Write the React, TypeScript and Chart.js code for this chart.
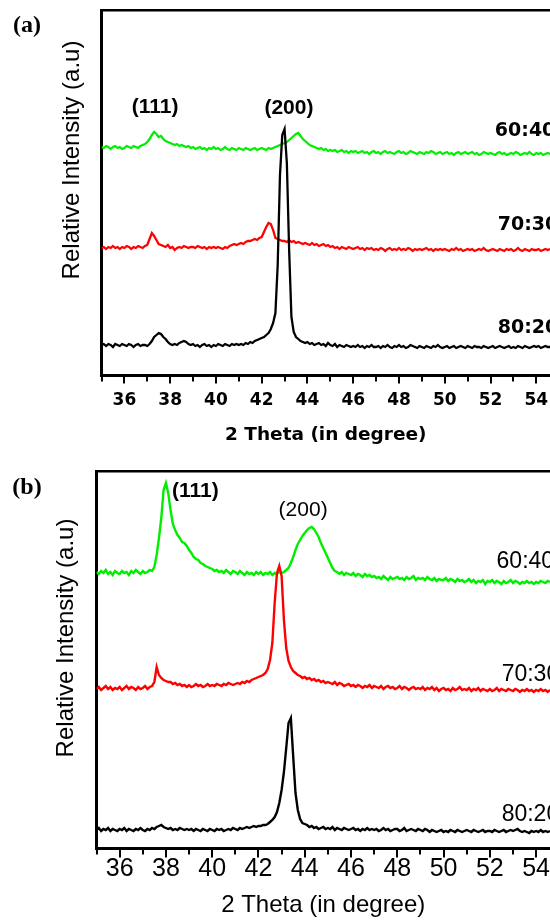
import React, { useEffect, useRef } from 'react';
import { Chart, registerables } from 'chart.js';
Chart.register(...registerables);

// ---------- data ----------
const angles = [
  35.0,35.1,35.2,35.3,35.4,35.5,35.6,35.7,35.8,35.9,
  36.0,36.1,36.2,36.3,36.4,36.5,36.6,36.7,36.8,36.9,
  37.0,37.1,37.2,37.3,37.4,37.5,37.6,37.7,37.8,37.9,
  38.0,38.1,38.2,38.3,38.4,38.5,38.6,38.7,38.8,38.9,
  39.0,39.1,39.2,39.3,39.4,39.5,39.6,39.7,39.8,39.9,
  40.0,40.1,40.2,40.3,40.4,40.5,40.6,40.7,40.8,40.9,
  41.0,41.1,41.2,41.3,41.4,41.5,41.6,41.7,41.8,41.9,
  42.0,42.1,42.2,42.3,42.4,42.5,42.6,42.7,42.8,42.9,
  43.0,43.1,43.2,43.3,43.4,43.5,43.6,43.7,43.8,43.9,
  44.0,44.1,44.2,44.3,44.4,44.5,44.6,44.7,44.8,44.9,
  45.0,45.1,45.2,45.3,45.4,45.5,45.6,45.7,45.8,45.9,
  46.0,46.1,46.2,46.3,46.4,46.5,46.6,46.7,46.8,46.9,
  47.0,47.1,47.2,47.3,47.4,47.5,47.6,47.7,47.8,47.9,
  48.0,48.1,48.2,48.3,48.4,48.5,48.6,48.7,48.8,48.9,
  49.0,49.1,49.2,49.3,49.4,49.5,49.6,49.7,49.8,49.9,
  50.0,50.1,50.2,50.3,50.4,50.5,50.6,50.7,50.8,50.9,
  51.0,51.1,51.2,51.3,51.4,51.5,51.6,51.7,51.8,51.9,
  52.0,52.1,52.2,52.3,52.4,52.5,52.6,52.7,52.8,52.9,
  53.0,53.1,53.2,53.3,53.4,53.5,53.6,53.7,53.8,53.9,
  54.0,54.1,54.2,54.3,54.4,54.5,54.6,
];

// panel (a)
const a60 = [
  228,227,229,228,226,228,229,227,228,226,
  227,229,228,227,229,228,227,229,230,231,
  233,236,240,243,241,238,239,236,234,233,
  232,231,230,231,229,230,229,228,229,227,
  228,226,227,228,226,227,225,227,226,228,
  226,227,225,226,228,226,225,227,226,225,
  227,226,225,227,226,225,226,227,225,226,
  227,226,225,227,226,227,228,229,230,231,
  232,233,235,237,239,241,242,239,236,234,
  232,230,229,228,227,226,227,225,226,224,
  225,224,225,223,224,225,223,224,222,224,
  223,224,222,223,224,222,223,221,223,224,
  222,223,221,223,224,222,223,222,221,223,
  224,222,223,221,222,224,223,222,221,223,
  222,221,223,222,224,223,221,222,223,221,
  222,223,221,222,220,222,223,221,222,223,
  221,222,223,221,222,220,221,223,222,221,
  222,221,220,222,223,221,222,220,221,222,
  221,223,222,220,221,222,221,223,221,220,
  222,221,222,220,221,222,221,
];
const a70 = [
  127,128,126,128,127,129,127,128,126,128,
  127,129,128,126,128,127,129,128,127,129,
  130,136,142,139,135,131,130,129,128,130,
  127,128,125,127,128,127,129,128,127,128,
  128,127,129,128,127,128,126,128,127,128,
  127,128,127,126,128,127,129,130,131,130,
  131,132,131,133,134,134,135,136,135,137,
  138,143,148,152,151,145,137,136,135,134,
  134,133,135,133,134,132,133,132,131,132,
  131,130,132,130,131,129,130,131,129,130,
  128,129,127,128,126,128,127,126,128,127,
  126,127,128,126,127,125,127,126,127,125,
  126,125,127,126,124,126,127,125,126,125,
  127,125,126,125,127,126,124,126,125,126,
  125,126,127,125,126,124,126,125,126,125,
  126,125,124,126,125,127,125,126,124,125,
  126,125,126,124,125,126,125,127,125,124,
  125,126,125,124,126,125,124,126,125,126,
  124,125,127,125,124,126,125,124,126,125,
  125,126,124,125,126,125,126,
];
const a80 = [
  30,31,29,31,30,28,31,30,29,31,
  30,29,31,30,28,30,31,29,30,30,
  29,31,34,38,40,42,41,38,36,33,
  31,30,31,30,32,33,34,33,31,30,
  31,29,30,28,30,31,29,30,28,30,
  29,31,30,29,31,30,29,31,30,31,
  30,31,30,32,31,33,32,34,35,36,
  37,38,40,42,46,52,62,110,200,240,
  246,212,125,58,43,38,36,34,33,32,
  33,31,32,30,31,32,30,31,29,32,
  30,29,31,28,30,29,28,30,29,28,
  29,28,30,28,29,27,29,28,30,28,
  28,29,27,29,28,30,28,27,29,28,
  30,28,29,27,28,30,29,28,27,29,
  28,27,29,28,27,29,28,30,28,27,
  28,29,27,28,29,27,28,29,28,27,
  29,28,27,29,28,28,27,29,28,27,
  28,29,27,28,29,28,27,28,29,27,
  28,27,29,28,27,29,28,27,28,29,
  28,29,27,28,29,28,28,
];

// panel (b)
const b60 = [
  276,274,277,275,278,274,276,273,277,275,
  274,277,275,276,273,277,275,278,276,274,
  277,275,276,278,277,281,293,310,330,358,
  365,355,338,324,318,313,310,306,305,302,
  298,295,291,289,288,285,284,282,281,280,
  279,277,278,276,277,275,278,276,274,277,
  276,274,277,275,273,276,274,275,273,276,
  274,276,273,275,274,276,273,275,274,276,
  275,276,278,280,285,291,298,304,308,312,
  315,318,320,321,319,315,311,305,300,295,
  290,285,280,277,276,274,276,273,275,274,
  273,275,272,274,273,271,274,272,273,271,
  272,270,271,269,272,270,268,271,269,270,
  271,269,270,268,271,269,270,272,268,270,
  269,270,268,271,269,268,270,267,269,268,
  268,270,267,269,268,266,269,267,268,266,
  267,269,266,268,265,267,266,268,264,267,
  266,268,265,267,266,264,267,265,266,268,
  265,267,266,264,266,265,267,265,266,264,
  266,265,267,266,265,267,266,
];
const b70 = [
  159,161,158,160,162,159,161,158,160,159,
  161,158,160,162,159,161,160,158,161,159,
  160,162,159,161,162,166,181,173,170,168,
  167,166,166,164,165,163,164,162,163,161,
  163,161,162,164,162,163,161,162,164,162,
  163,162,164,163,162,164,163,165,164,163,
  164,165,164,166,165,167,166,168,169,170,
  171,172,173,175,179,188,205,245,275,282,
  272,228,200,187,181,177,175,173,172,170,
  171,169,170,168,169,167,168,166,167,165,
  166,165,164,166,163,165,164,162,163,164,
  162,163,161,163,162,160,162,161,163,160,
  162,161,160,162,159,161,162,160,161,159,
  160,162,159,161,160,158,160,161,159,160,
  159,161,158,160,159,161,158,160,157,159,
  160,158,159,157,160,158,159,161,158,159,
  158,160,157,159,158,160,157,159,158,157,
  159,157,158,160,157,159,158,157,159,158,
  157,159,158,156,158,157,159,157,158,156,
  158,157,159,157,158,156,158,
];
const b80 = [
  18,20,17,19,18,20,17,19,18,17,
  19,18,20,17,19,18,17,19,18,20,
  18,17,19,18,20,19,21,22,23,21,
  20,19,20,18,19,18,20,19,18,19,
  18,19,17,19,18,17,19,18,17,19,
  18,17,19,18,19,17,18,19,18,20,
  19,18,20,19,20,21,20,21,22,21,
  22,22,23,23,24,26,28,31,36,45,
  58,76,100,125,130,92,55,38,29,25,
  24,23,21,22,20,21,19,20,21,19,
  20,19,21,18,20,19,18,20,19,18,
  19,20,18,19,17,19,18,20,18,19,
  18,19,17,18,20,18,19,17,18,19,
  19,17,18,20,17,18,19,18,17,19,
  18,17,19,18,16,18,17,16,17,18,
  16,17,16,18,17,16,18,17,16,17,
  18,17,16,18,17,16,17,18,16,17,
  17,16,18,17,16,17,18,16,17,18,
  17,18,19,17,16,17,16,15,17,16,
  17,16,18,16,17,16,17,
];

const tickValues = [35,36,37,38,39,40,41,42,43,44,45,46,47,48,49,50,51,52,53,54];
const ratioLabels = ['60:40', '70:30', '80:20'];
const peakLabels = ['(111)', '(200)'];
const panelLabels = ['(a)', '(b)'];
const xTitle = '2 Theta (in degree)';
const yTitle = 'Relative Intensity (a.u)';
const seriesColors = ['#000000', '#ff0000', '#00ee00']; // 80:20, 70:30, 60:40

// ---------- panel settings (layout / style) ----------
const panels = [
  {
    label: panelLabels[0],
    series: [a80, a70, a60],
    yMax: 365,
    leftW: 101.5, topH: 10, bottomH: 85,
    axisW: 3, topW: 2.5,
    tickFont: { family: 'DejaVu Sans', size: 17, weight: 'bold' },
    tickPad: 15,
    titleFont: { family: 'DejaVu Sans', size: 18.5, weight: 'bold' },
    titlePadBottom: 14,
    majorLen: 7, minorLen: 5,
    yTitlePos: [72, 160], yTitleFont: '24px "Liberation Sans"',
    labelPos: [27, 26],
    lineW: 2.3,
    notes: [
      { text: peakLabels[0], x: 37.34, y: 268, font: 'bold 21px "Liberation Sans"', align: 'center' },
      { text: peakLabels[1], x: 43.19, y: 267, font: 'bold 21px "Liberation Sans"', align: 'center' },
      { text: ratioLabels[0], x: 52.19, y: 244, font: 'bold 19px "DejaVu Sans"', align: 'left' },
      { text: ratioLabels[1], x: 52.32, y: 150, font: 'bold 19px "DejaVu Sans"', align: 'left' },
      { text: ratioLabels[2], x: 52.32, y: 47, font: 'bold 19px "DejaVu Sans"', align: 'left' },
    ],
  },
  {
    label: panelLabels[1],
    series: [b80, b70, b60],
    yMax: 377,
    leftW: 96.5, topH: 11, bottomH: 72,
    axisW: 3, topW: 2.5,
    tickFont: { family: 'Liberation Sans', size: 25, weight: 'normal' },
    tickPad: 6,
    titleFont: { family: 'Liberation Sans', size: 24, weight: 'normal' },
    titlePadBottom: 0,
    majorLen: 8, minorLen: 5,
    yTitlePos: [66, 178], yTitleFont: '24px "Liberation Sans"',
    labelPos: [27, 28],
    lineW: 2.4,
    notes: [
      { text: peakLabels[0], x: 39.27, y: 357, font: 'bold 21px "Liberation Sans"', align: 'center' },
      { text: peakLabels[1], x: 43.93, y: 338, font: '21px "Liberation Sans"', align: 'center' },
      { text: ratioLabels[0], x: 52.29, y: 286, font: '23px "Liberation Sans"', align: 'left' },
      { text: ratioLabels[1], x: 52.51, y: 173, font: '23px "Liberation Sans"', align: 'left' },
      { text: ratioLabels[2], x: 52.51, y: 33, font: '23px "Liberation Sans"', align: 'left' },
    ],
  },
];

const X_MIN = 35;
const X_MAX = 54.6;

function Panel({ cfg }: { cfg: any }) {
  const ref = useRef<HTMLCanvasElement>(null);
  useEffect(() => {
    const overlay = {
      id: 'overlay',
      afterDraw(chart: any) {
        const ctx = chart.ctx;
        const xs = chart.scales.x;
        const ys = chart.scales.y;
        const base = chart.chartArea.bottom;
        ctx.save();
        ctx.strokeStyle = '#000';
        ctx.lineWidth = 2;
        for (const v of tickValues) {
          const px = Math.round(xs.getPixelForValue(v));
          const len = v % 2 === 0 ? cfg.majorLen : cfg.minorLen;
          ctx.beginPath();
          ctx.moveTo(px, base);
          ctx.lineTo(px, base + cfg.axisW / 2 + len);
          ctx.stroke();
        }
        ctx.fillStyle = '#000';
        // y title
        ctx.save();
        ctx.translate(cfg.yTitlePos[0], cfg.yTitlePos[1]);
        ctx.rotate(-Math.PI / 2);
        ctx.font = cfg.yTitleFont;
        ctx.textAlign = 'center';
        ctx.textBaseline = 'middle';
        ctx.fillText(yTitle, 0, 0);
        ctx.restore();
        // panel label
        ctx.font = 'bold 24px "Liberation Serif"';
        ctx.textAlign = 'center';
        ctx.textBaseline = 'middle';
        ctx.fillText(cfg.label, cfg.labelPos[0], cfg.labelPos[1]);
        // annotations
        for (const n of cfg.notes) {
          ctx.font = n.font;
          ctx.textAlign = n.align;
          ctx.textBaseline = 'middle';
          ctx.fillText(n.text, xs.getPixelForValue(n.x), ys.getPixelForValue(n.y));
        }
        ctx.restore();
      },
    };

    const datasets = cfg.series.map((vals: number[], i: number) => ({
      data: angles.map((x, k) => ({ x, y: vals[k] })),
      borderColor: seriesColors[i],
      borderWidth: cfg.lineW,
      pointRadius: 0,
      tension: 0,
      fill: false,
    }));

    const chart = new Chart(ref.current as HTMLCanvasElement, {
      type: 'line',
      data: { datasets },
      options: {
        responsive: false,
        maintainAspectRatio: false,
        animation: false,
        devicePixelRatio: 1,
        parsing: false,
        normalized: true,
        layout: { padding: 0 },
        plugins: { legend: { display: false }, tooltip: { enabled: false } },
        scales: {
          x: {
            type: 'linear',
            position: 'bottom',
            min: X_MIN,
            max: X_MAX,
            afterBuildTicks: (s: any) => {
              s.ticks = tickValues.map((v) => ({ value: v }));
            },
            ticks: {
              autoSkip: false,
              maxRotation: 0,
              minRotation: 0,
              padding: cfg.tickPad,
              color: '#000',
              font: cfg.tickFont,
              callback: (v: any) => (Number(v) % 2 === 0 ? String(v) : ''),
            },
            grid: { display: false, drawTicks: false },
            border: { display: true, color: '#000', width: cfg.axisW },
            title: {
              display: true,
              text: xTitle,
              color: '#000',
              font: cfg.titleFont,
              padding: { top: 0, bottom: cfg.titlePadBottom },
            },
            afterFit: (s: any) => {
              s.height = cfg.bottomH;
              s.paddingLeft = 0;
              s.paddingRight = 0;
            },
          },
          xTop: {
            type: 'linear',
            position: 'top',
            min: X_MIN,
            max: X_MAX,
            ticks: { display: false },
            grid: { display: false, drawTicks: false },
            border: { display: true, color: '#000', width: cfg.topW },
            afterFit: (s: any) => {
              s.height = cfg.topH;
              s.paddingLeft = 0;
              s.paddingRight = 0;
            },
          },
          y: {
            type: 'linear',
            position: 'left',
            min: 0,
            max: cfg.yMax,
            ticks: { display: false },
            grid: { display: false, drawTicks: false },
            border: { display: true, color: '#000', width: cfg.axisW },
            afterFit: (s: any) => {
              s.width = cfg.leftW;
              s.paddingTop = 0;
              s.paddingBottom = 0;
            },
          },
        },
      } as any,
      plugins: [overlay],
    });
    return () => chart.destroy();
  }, []);
  return (
    <canvas
      ref={ref}
      width={550}
      height={460}
      style={{ display: 'block', width: '550px', height: '460px' }}
    />
  );
}

export default function App() {
  return (
    <div
      style={{
        position: 'absolute',
        left: 0,
        top: 0,
        width: '550px',
        height: '920px',
        background: '#ffffff',
        overflow: 'hidden',
      }}
    >
      <Panel cfg={panels[0]} />
      <Panel cfg={panels[1]} />
    </div>
  );
}
